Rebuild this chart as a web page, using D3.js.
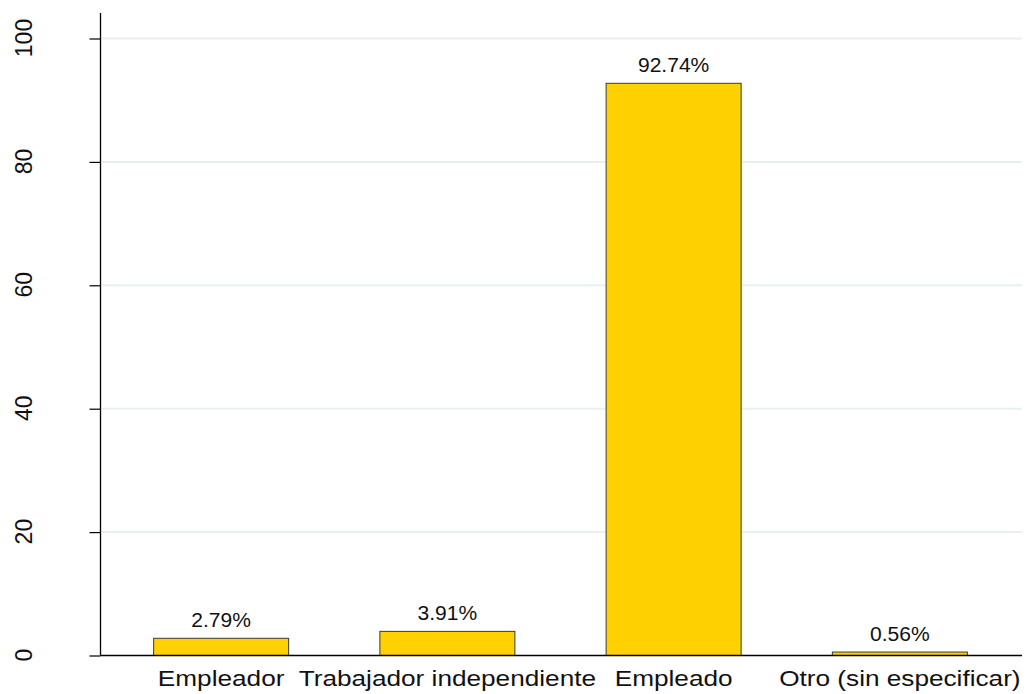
<!DOCTYPE html>
<html>
<head>
<meta charset="utf-8">
<script src="https://cdn.jsdelivr.net/npm/d3@7"></script>
<style>
  html, body { margin: 0; padding: 0; background: #fff; }
  svg { display: block; }
  text { font-family: "Liberation Sans", Arial, Helvetica, sans-serif; fill: #111; }
</style>
</head>
<body>
<svg id="chart" width="1026" height="694"></svg>
<script>
// ---- data ----
const categories = ["Empleador", "Trabajador independiente", "Empleado", "Otro (sin especificar)"];
const values = [2.79, 3.91, 92.74, 0.56];
const valueLabels = ["2.79%", "3.91%", "92.74%", "0.56%"];
const yTicks = [0, 20, 40, 60, 80, 100];

// ---- layout ----
const W = 1026, H = 694;
const plotLeft = 100.5, plotRight = 1022, axisTop = 13;
const svg = d3.select("#chart");

const y = d3.scaleLinear().domain([0, 100]).range([655.5, 38.5]);
const x = d3.scaleBand().domain(categories).range([108, 1013])
  .paddingInner(0.4033).paddingOuter(0.2017);

// gridlines
svg.append("g").selectAll("line")
  .data(yTicks.filter(d => d > 0))
  .join("line")
  .attr("x1", plotLeft + 1).attr("x2", plotRight)
  .attr("y1", d => y(d)).attr("y2", d => y(d))
  .attr("stroke", "#e9f0f2").attr("stroke-width", 2);

// bars
svg.append("g").selectAll("rect")
  .data(categories)
  .join("rect")
  .attr("x", d => x(d))
  .attr("width", x.bandwidth())
  .attr("y", (d, i) => y(values[i]))
  .attr("height", (d, i) => y(0) - y(values[i]))
  .attr("fill", "#ffd100")
  .attr("stroke", "#3a3a3a")
  .attr("stroke-width", 1);

// value labels
svg.append("g").selectAll("text")
  .data(categories)
  .join("text")
  .attr("transform", (d, i) => `translate(${x(d) + x.bandwidth() / 2},${y(values[i]) - 11.5}) scale(1.08,1)`)
  .attr("text-anchor", "middle")
  .style("font-size", "19.5px")
  .text((d, i) => valueLabels[i]);

// y axis
const yAxis = svg.append("g")
  .attr("transform", `translate(${plotLeft},0)`)
  .call(d3.axisLeft(y).tickValues(yTicks).tickSize(11).tickFormat(d3.format("d")));
yAxis.select(".domain").remove();
yAxis.selectAll(".tick line").attr("stroke", "#000").attr("stroke-width", 1.2);
yAxis.selectAll(".tick text")
  .attr("x", null).attr("dy", null)
  .attr("text-anchor", "middle")
  .attr("transform", `translate(${32 - plotLeft},-1) scale(1.08,1) rotate(-90)`)
  .style("font-size", "23px")
  .style("font-family", "'Liberation Sans', Arial, sans-serif")
  .attr("fill", "#111");
svg.append("line")
  .attr("x1", plotLeft).attr("x2", plotLeft)
  .attr("y1", axisTop).attr("y2", y(0))
  .attr("stroke", "#000").attr("stroke-width", 1.3);

// x axis
const xAxis = svg.append("g")
  .attr("transform", `translate(0,${y(0)})`)
  .call(d3.axisBottom(x).tickSize(0));
xAxis.select(".domain").remove();
xAxis.selectAll(".tick text")
  .attr("y", null).attr("dy", null)
  .attr("text-anchor", "middle")
  .attr("transform", `translate(0,30.5) scale(1.19,1)`)
  .style("font-size", "22px")
  .style("font-family", "'Liberation Sans', Arial, sans-serif")
  .attr("fill", "#111");
svg.append("line")
  .attr("x1", plotLeft).attr("x2", plotRight)
  .attr("y1", y(0)).attr("y2", y(0))
  .attr("stroke", "#000").attr("stroke-width", 1.3);
</script>
</body>
</html>
